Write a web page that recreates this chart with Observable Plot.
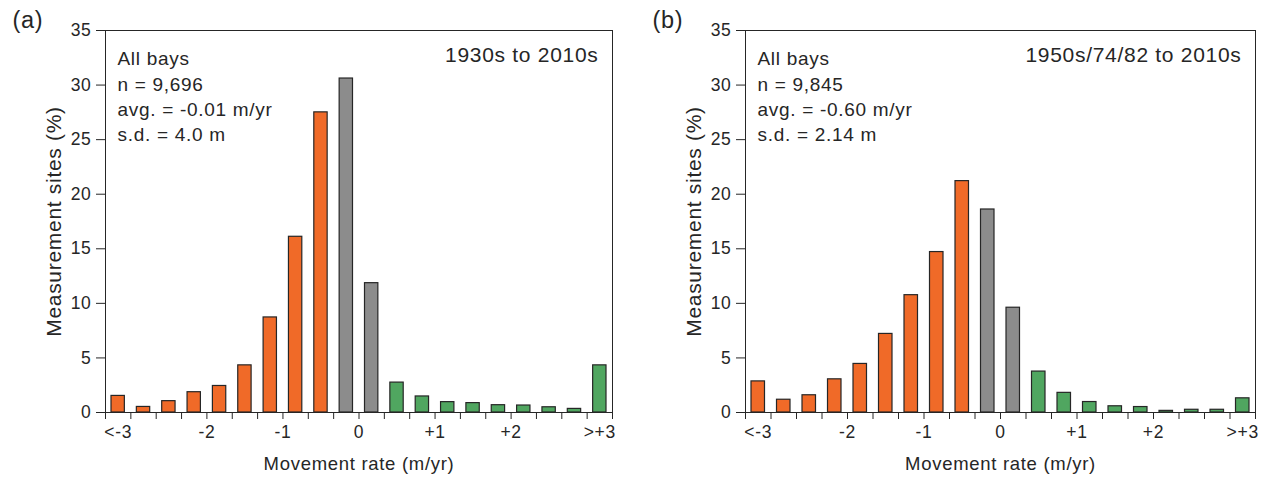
<!DOCTYPE html>
<html>
<head>
<meta charset="utf-8">
<script src="https://cdn.jsdelivr.net/npm/d3@7"></script>
<script src="https://cdn.jsdelivr.net/npm/@observablehq/plot@0.6"></script>
<style>
  html, body { margin: 0; padding: 0; background: #fff; }
  #wrap { display: flex; flex-direction: row; width: 1270px; height: 478px; overflow: hidden; }
  svg { font-family: "Liberation Sans", Arial, sans-serif; }
</style>
</head>
<body>
<div id="wrap"></div>
<script>
// Bin edges (m/yr): first bin is "<-3", last bin is ">+3"
const binEdges = [-10/3, -3, -8/3, -7/3, -2, -5/3, -4/3, -1, -2/3, -1/3, 0, 1/3, 2/3, 1, 4/3, 5/3, 2, 7/3, 8/3, 3, 10/3];
const binClass = ["erosion","erosion","erosion","erosion","erosion","erosion","erosion","erosion","erosion",
                  "stable","stable",
                  "accretion","accretion","accretion","accretion","accretion","accretion","accretion","accretion","accretion"];
// Percent of measurement sites per bin
const valuesA = [1.52, 0.51, 1.04, 1.86, 2.43, 4.32, 8.71, 16.1, 27.5, 30.6, 11.85, 2.74, 1.47, 0.95, 0.86, 0.67, 0.64, 0.48, 0.33, 4.32];
const valuesB = [2.85, 1.17, 1.58, 3.04, 4.45, 7.2, 10.75, 14.7, 21.2, 18.6, 9.6, 3.75, 1.8, 0.96, 0.57, 0.5, 0.15, 0.25, 0.25, 1.3];
// Tick labels
const xLabelPos = [-19/6, -2, -1, 0, 1, 2, 19/6];
const xLabels = ["<-3", "-2", "-1", "0", "+1", "+2", ">+3"];
const yTicks = [0, 5, 10, 15, 20, 25, 30, 35];
const panelA = {tag: "(a)", period: "1930s to 2010s", stats: "All bays\nn = 9,696\navg. = -0.01 m/yr\ns.d. = 4.0 m", values: valuesA};
const panelB = {tag: "(b)", period: "1950s/74/82 to 2010s", stats: "All bays\nn = 9,845\navg. = -0.60 m/yr\ns.d. = 2.14 m", values: valuesB};

const colors = {erosion: "#f06a28", stable: "#8c8c8c", accretion: "#50a660"};
const ink = "#262626";

function panel(p, width, marginRight) {
  const data = p.values.map((v, i) => ({x1: binEdges[i], x2: binEdges[i + 1], v, c: binClass[i]}));
  return Plot.plot({
    width, height: 478,
    marginLeft: 105, marginRight, marginTop: 30, marginBottom: 66,
    style: {fontFamily: "'Liberation Sans', Arial, sans-serif", fontSize: "17.5px", letterSpacing: "0.7px", color: ink, background: "#fff"},
    x: {type: "linear", domain: [binEdges[0], binEdges[binEdges.length - 1]]},
    y: {domain: [0, 35]},
    color: {domain: Object.keys(colors), range: Object.values(colors)},
    marks: [
      Plot.rectY(data, {x1: "x1", x2: "x2", y: "v", fill: "c", stroke: ink, strokeWidth: 1.2, insetLeft: 6, insetRight: 6}),
      Plot.frame({stroke: ink, strokeWidth: 1}),
      Plot.axisY({ticks: yTicks, tickSize: 9, tickPadding: 5, label: null, stroke: ink}),
      Plot.axisX({ticks: binEdges, tickFormat: () => "", tickSize: 7, label: null, stroke: ink}),
      Plot.axisX({ticks: xLabelPos, tickFormat: (d, i) => xLabels[i], tickSize: 0, tickPadding: 13, label: null}),
      Plot.text([p.stats], {frameAnchor: "top-left", dx: 12, dy: 17, textAnchor: "start", lineAnchor: "top", fontSize: 19, letterSpacing: 0.9, lineHeight: 1.33, fill: ink}),
      Plot.text([p.period], {frameAnchor: "top-right", dx: -14, dy: 17, textAnchor: "end", lineAnchor: "top", fontSize: 21, letterSpacing: 1.1, fill: ink}),
      Plot.text([p.tag], {frameAnchor: "top-left", dx: -93, dy: -3, textAnchor: "start", lineAnchor: "bottom", fontSize: 23.5, letterSpacing: 1, fill: ink}),
      Plot.text(["Measurement sites (%)"], {frameAnchor: "left", dx: -51, rotate: -90, textAnchor: "middle", lineAnchor: "middle", fontSize: 21, letterSpacing: 0, fill: ink}),
      Plot.text(["Movement rate (m/yr)"], {frameAnchor: "bottom", dy: 52, textAnchor: "middle", lineAnchor: "middle", fontSize: 18.5, letterSpacing: 1.2, fill: ink})
    ]
  });
}

const wrap = document.getElementById("wrap");
wrap.append(panel(panelA, 640, 28));
wrap.append(panel(panelB, 630, 15));
</script>
</body>
</html>
